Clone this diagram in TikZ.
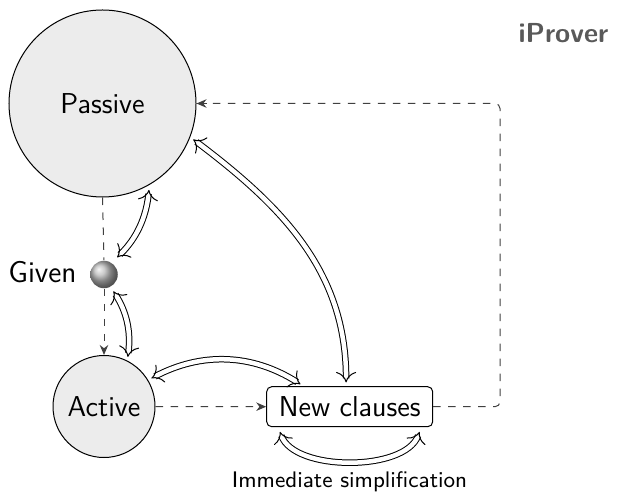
\documentclass[tikz,border=0pt]{standalone}
\usepackage{fontspec}
\usetikzlibrary{arrows.meta,shapes.geometric}
\begin{document}
\begin{tikzpicture}[x=0.4pt,y=0.4pt,
  every node/.style={font=\sffamily},
  statecirc/.style={circle,draw=black,fill=gray!15,inner sep=0pt,font=\sffamily\fontsize{11.5}{13}\selectfont},
  dashflow/.style={draw=black!75,dashed,-{Stealth[length=4pt,width=3.4pt]}},
  dashline/.style={draw=black!75,dashed,rounded corners=2pt},
  dblbody/.style={double,double distance=1.8pt,line width=0.4pt},
  dbltips/.style={draw=white,line width=0.4pt,
    {Computer Modern Rightarrow[length=4.2pt,width=8pt,black,line width=0.4pt]}-{Computer Modern Rightarrow[length=4.2pt,width=8pt,black,line width=0.4pt]}}
]
\useasboundingbox (0,0) rectangle (617,493);
% nodes
\node[statecirc,minimum size=74.8pt] (passive) at (102.5,389.5) {Passive};
\node[statecirc,minimum size=40.8pt] (active) at (104,86.5) {Active};
\node[draw=black,rounded corners=2pt,minimum width=66.4pt,minimum height=16pt,inner sep=0pt,
      font=\sffamily\fontsize{11.5}{13}\selectfont] (new) at (349.7,86.3) {New clauses};
\coordinate (rc) at (500,389.5);
% dashed flow
\draw[dashflow] (active.east) -- (new.west);
\draw[dashline] (new.east) -- (new.east -| rc) -- (rc) -- ([xshift=4pt]passive.east);
\draw[dashflow] ([xshift=4pt]passive.east) -- (passive.east);
\node[circle,shading=ball,ball color=gray!55,minimum size=11pt,inner sep=0pt] (given) at (104,218.5) {};
\draw[black!75,dashed] (passive.south) -- (given.north);
\draw[dashflow] (given.south) -- (active.north);
\node[anchor=east,inner sep=0pt,font=\sffamily\fontsize{12}{14}\selectfont] (givenlabel) at (77,221) {Given};
\node[font=\sffamily\bfseries\fontsize{11}{13}\selectfont,text=black!65] (title) at (563.5,460) {iProver};
\node[inner sep=0pt,font=\sffamily\fontsize{9}{11}\selectfont] (simplabel) at (349.5,11) {Immediate simplification};
% double arrows: body
\draw[dblbody,shorten <=4.6pt,shorten >=3.6pt] (given.57) to[bend right=20] (passive.-60);
\draw[dblbody,shorten <=3.6pt,shorten >=3.1pt] (given.-62) to[bend left=20] (active.63);
\draw[dblbody,shorten <=3.1pt,shorten >=3.1pt] (active.31) to[bend left=30] (new.156);
\draw[dblbody,shorten <=3.1pt,shorten >=3.1pt] (passive.-21) to[out=-37,in=90] (new.100);
\draw[dblbody,shorten <=3.6pt,shorten >=3.6pt] (new.-164) to[out=-70,in=-110,looseness=0.85] (new.-16);
% double arrows: tips
\draw[dbltips,shorten <=3pt,shorten >=2pt] (given.57) to[bend right=20] (passive.-60);
\draw[dbltips,shorten <=2pt,shorten >=1.5pt] (given.-62) to[bend left=20] (active.63);
\draw[dbltips,shorten <=1.5pt,shorten >=1.5pt] (active.31) to[bend left=30] (new.156);
\draw[dbltips,shorten <=1.5pt,shorten >=1.5pt] (passive.-21) to[out=-37,in=90] (new.100);
\draw[dbltips,shorten <=2pt,shorten >=2pt] (new.-164) to[out=-70,in=-110,looseness=0.85] (new.-16);
\end{tikzpicture}
\end{document}
